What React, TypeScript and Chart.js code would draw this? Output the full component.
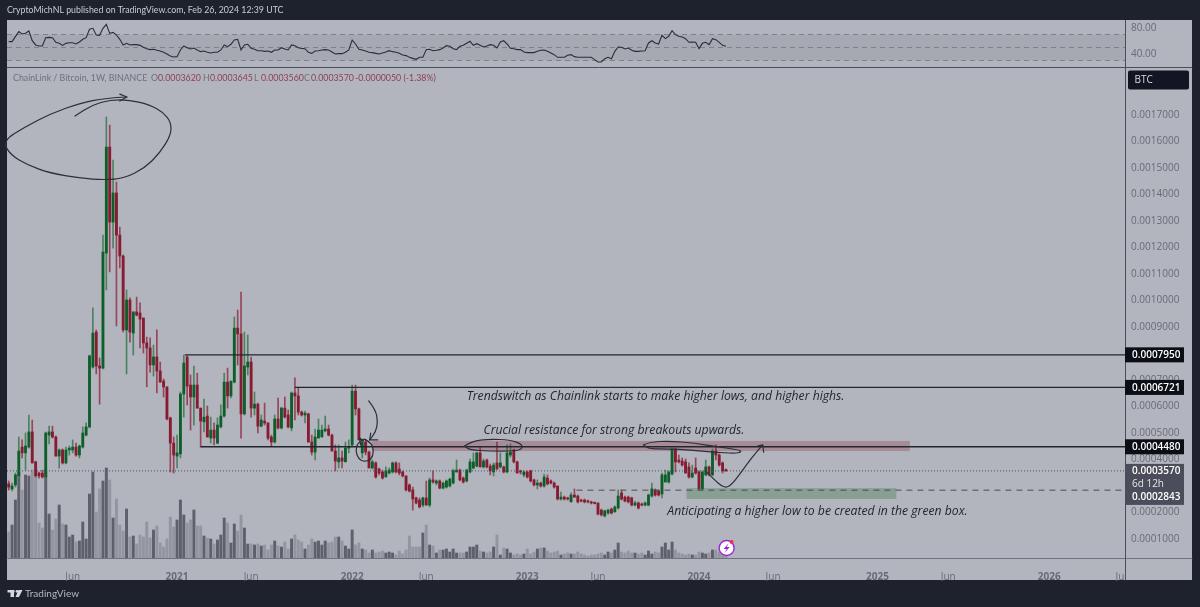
import { useEffect, useRef } from "react"
import { Chart, registerables, type Plugin } from "chart.js"

Chart.register(...registerables)

// prices are in units of 0.0000001 BTC
const opens = [
  3080,2890,3040,3380,4470,4250,4470,5040,3910,3490,
  3490,3340,4920,5040,4850,4130,4360,3870,4360,4360,
  4470,4170,4470,4920,5230,7490,8810,7530,7450,11790,
  15790,12960,14060,12470,11680,8890,10020,8770,9570,9530,
  9340,8400,8210,7570,7870,7340,6960,6740,5570,4620,
  4130,4210,6470,7870,6810,6360,6810,5940,5420,5640,
  4810,5110,4620,5230,5640,6920,6400,6920,8960,8740,
  5720,7490,7680,5940,6090,5260,5450,5380,4850,4660,
  5530,5190,5940,5680,5190,6510,6400,5790,5680,5720,
  4660,4280,4810,4850,5080,5150,4920,4320,3910,4060,
  3910,4430,4550,6580,5910,4250,4660,4280,3680,3870,
  3640,3530,3340,3490,3530,3870,3640,3530,3380,3040,
  2850,2550,2470,2280,2550,2280,3230,3110,3190,2920,
  2960,3000,3110,3530,3600,3300,3190,3530,3680,3750,
  4250,3720,3980,3750,3530,3870,3720,3720,3530,4170,
  4360,3910,3570,3420,3530,3570,3230,3040,3110,3000,
  3300,3190,3110,3000,2510,2580,2550,2400,2660,2620,
  2470,2470,2430,2400,2360,2360,2090,1870,1980,2130,
  2020,2170,2740,2580,2580,2550,2280,2360,2320,2280,
  2280,2620,2850,2810,2700,3150,3150,3450,4400,3980,
  3940,3910,3720,3340,3680,3530,2890,3420,3720,3420,
  4320,4170,3870,3620,
]
const highs = [
  3190,3110,3490,4850,4740,5000,5680,5490,3940,3530,
  3600,5040,5260,5260,4890,4400,4400,4470,4510,4740,
  4620,4550,5230,5380,7940,9720,8890,7830,12470,16930,
  16620,15300,14470,12770,11720,10400,10100,9570,10130,9910,
  9340,8620,8590,8320,8890,7680,7040,6740,5600,4850,
  4920,6550,7940,7910,7190,7530,7260,5940,6280,6020,
  5600,5380,5570,6060,7260,7450,6960,9380,9640,10320,
  8810,8700,7870,6550,6130,5680,6130,5380,4920,5680,
  6320,5980,6360,5870,6550,7080,6700,5830,5830,5750,
  4920,5150,5530,5300,5640,5300,4960,4550,4550,4320,
  4660,4740,6810,6810,5940,4770,4740,4320,3980,3910,
  3680,3600,3720,3680,3910,3910,3870,3570,3380,3080,
  2960,2580,2550,2580,3190,3300,3570,3230,3230,3150,
  3230,3300,3640,3980,3640,3340,3640,4020,4250,4280,
  4470,4020,4020,3830,3870,4660,4250,3750,4550,4590,
  4400,3940,3600,3570,3570,3600,3260,3230,3150,3450,
  3420,3230,3150,3000,2770,2620,2580,2740,2890,2660,
  2510,2510,2470,2430,2400,2360,2130,2090,2130,2170,
  2250,2850,2850,2620,2620,2580,2430,2400,2360,2400,
  2700,3110,2890,2850,3490,3600,3570,4430,4430,4170,
  4060,4020,3870,3790,4060,3570,3570,3980,3750,4400,
  4550,4210,3910,3645,
]
const lows = [
  2850,2810,2960,3340,4060,3600,4430,3870,3340,3300,
  3300,3300,4590,4810,4130,3680,3830,3830,4170,4250,
  4130,4060,4430,4890,5190,7450,7230,6090,7420,10400,
  11080,11980,9040,11230,8810,7230,8430,7940,9420,8210,
  8020,6740,7300,7150,6510,6920,6360,5490,3530,3490,
  3680,4060,5600,6060,5110,5300,5940,4470,5040,4850,
  4620,4550,4590,5190,5600,5940,6320,6890,7570,4810,
  5680,7190,5600,5680,5000,5230,5300,4740,4510,4620,
  5150,5150,5570,5190,5080,5490,5680,5640,5380,4660,
  4170,3980,4810,4850,5040,4890,4320,3570,3680,3680,
  3910,4250,4510,5680,4740,4060,4170,3680,3640,3300,
  3420,3260,3340,3450,3490,3490,3420,3340,2810,2770,
  2090,2320,2170,2210,2280,2210,3110,3040,2890,2890,
  2920,2960,3080,3530,3190,3110,3150,3490,3640,3720,
  3720,3680,3680,3420,3380,3640,3680,3490,3490,4090,
  3870,3490,3450,3340,3300,3150,3000,2890,2960,2960,
  3040,3080,2920,2470,2470,2470,2470,2400,2580,2360,
  2400,2360,2360,2320,2320,1910,1870,1830,1940,1940,
  2020,2130,2470,2400,2360,2250,2250,2130,2250,2250,
  2250,2580,2620,2620,2550,3150,3110,3420,3530,3870,
  3750,3490,3300,3300,3450,2850,2850,3380,3380,3380,
  3980,3750,3490,3560,
]
const closes = [
  2960,3000,3420,4320,4250,4510,5040,3870,3380,3380,
  3340,5000,5040,4850,4130,4360,3870,4360,4430,4470,
  4170,4510,5000,5230,7910,8770,7530,7450,11830,15790,
  12960,14060,12470,11680,8890,10020,8810,9570,9450,9300,
  8400,8210,7570,7870,7340,6920,6740,5530,4620,4170,
  4250,6470,7640,6770,6360,6810,5940,5450,5600,4850,
  5110,4810,5300,5640,6920,6400,6960,8960,8740,5720,
  7530,7680,5940,6090,5260,5490,5380,4810,4660,5530,
  5190,5940,5600,5230,6510,6400,5790,5680,5750,4660,
  4280,4850,5110,5110,5150,4920,4320,3940,4060,3940,
  4430,4470,6580,5910,4740,4660,4280,3680,3910,3340,
  3490,3300,3570,3600,3870,3530,3490,3380,2850,2810,
  2510,2360,2210,2550,2280,3230,3150,3190,2920,3110,
  3190,3260,3570,3600,3230,3150,3600,3910,3910,4250,
  3720,3940,3720,3570,3790,3640,3870,3530,4250,4280,
  3910,3490,3530,3530,3340,3190,3040,3110,3000,3340,
  3080,3110,2960,2510,2580,2510,2510,2660,2580,2400,
  2430,2400,2400,2360,2340,1940,1910,2060,2090,1980,
  2210,2620,2510,2430,2400,2280,2360,2170,2280,2360,
  2660,2890,2660,2660,3420,3420,3530,4400,3910,3910,
  3790,3490,3340,3490,3490,2890,3530,3720,3420,4320,
  4170,3790,3570,3570,
]
const volumes = [
  26,33,58,86,68,83,82,88,81,35,
  30,88,44,28,39,53,34,33,21,23,
  16,17,36,19,64,86,46,69,77,90,
  78,40,59,33,27,49,21,22,14,23,
  21,36,20,28,32,15,11,19,41,31,
  38,58,43,35,38,48,32,32,22,20,
  19,14,18,23,40,35,15,34,27,43,
  30,14,14,13,14,12,13,8,13,17,
  12,11,16,9,19,23,18,16,9,13,
  19,16,17,13,17,15,16,21,21,17,
  12,9,28,13,15,9,8,5,8,5,
  6,7,5,6,5,3,7,4,8,22,
  11,11,11,25,33,13,12,5,8,8,
  9,6,9,5,5,5,6,11,11,13,
  7,6,5,6,11,23,3,10,9,5,
  3,4,3,4,9,4,6,9,10,10,
  7,5,6,7,3,4,5,4,4,6,
  4,3,2,3,3,4,5,3,6,5,
  8,15,6,5,7,5,5,4,5,3,
  7,4,6,5,11,15,8,16,8,5,
  4,3,4,3,3,6,5,4,5,8,
  8,6,5,4,
]
const rsi = [
  59,59,66.7,74.4,70.8,71.8,75.4,60.5,53.9,52.3,
  52.3,65.1,65.6,65.1,58,56.4,53.3,56.4,57.4,57.4,
  55.4,58.5,62.6,65.1,78,79.5,69.2,68.7,79.5,85.6,
  71.8,73.3,69.2,62.6,53.9,56.4,53.9,54.4,54.4,53.3,
  50.3,48.2,46.7,47.2,45.7,44.6,42.6,40,36.9,35.4,
  35.9,46.2,52.3,49.7,47.7,49.2,46.2,43.6,44.6,42.6,
  41.5,42.6,42.6,46.2,53.9,51.3,54.9,61.5,62.6,46.2,
  53.9,54.9,48.7,47.2,45.1,45.1,44.1,44.6,42.6,46.2,
  46.2,49.7,47.7,46.2,53.9,52.8,49.7,48.7,48.2,42.6,
  41,44.6,45.1,46.2,46.7,46.2,43.1,40,40.5,40.5,
  42.6,46.2,61.5,55.4,47.2,46.2,44.6,42.6,42.1,41,
  40,41.6,43.1,45.1,43.6,42.6,41,38.5,37.5,34.9,
  33.3,31.8,34.9,34.9,46.7,47.2,45.1,45.7,46.7,49.2,
  52.8,51.8,48.2,46.7,51.8,53.4,56.4,59.5,53.4,55.9,
  53.4,50.8,52.3,54.4,53.4,49.2,58.5,60.5,55.4,48.7,
  48.2,46.7,46.7,43.1,42.1,42.1,42.1,44.1,45.7,46.2,
  44.1,41.6,39,34.9,34.9,34.9,38,39,35.9,34.9,
  34.9,34.9,34.9,34.9,31.3,27.7,27.7,32.8,34.9,32.8,
  44.1,50.8,50.3,47.7,49.2,45.7,44.1,44.1,44.6,45.1,
  57,60.5,57,55.4,68.7,63.6,67.2,75.9,69.8,67.2,
  66.2,63.6,58,58.5,58,48.2,56.4,58,54.4,63.6,
  62.1,58,53.4,51.8,
]

const weekCount = 332
const priceTicks = [17000,16000,15000,14000,13000,12000,11000,10000,9000,8000,7000,6000,5000,4000,3000,2000,1000]
const rsiTicks = [80, 40]
const timeWeeks = [19, 50, 72, 102, 124, 154, 175, 205, 227, 258, 279, 309, 330]
const timeLabels = ["Jun", "2021", "Jun", "2022", "Jun", "2023", "Jun", "2024", "Jun", "2025", "Jun", "2026", "Ju"]

// horizontal levels: [price, first week]
const resistanceLevels = [[7950, 52.3], [6721, 85], [4480, 57]]
const lastPrice = 3570
const supportPrice = 2843
const supportStart = 168.6
const redZone = [107.8, 267.6, 4700, 4320]
const greenZone = [201.3, 263.6, 2920, 2510]

// freehand drawings as [week, price]
const topEllipse = [[35.1,17680],[28.6,17640],[21.2,17450],[12.3,17040],[4.8,16550],[-1.8,16020],[0.5,15500],[5.7,15110],[12.3,14810],[21.2,14620],[28.6,14550],[34.5,14620],[40.4,15000],[44.9,15570],[48.2,16250],[48.2,16740],[45.8,17110],[41.9,17380],[36,17570],[30.1,17570],[24.7,17380],[19.7,16960]]
const topHead = [[33,17790],[35.1,17680],[33,17530]]
const bendArrow = [[106.9,6210],[109,5870],[109.6,5420],[109,5040],[107.2,4740]]
const bendHead = [[107.5,5000],[107.2,4740],[109.6,4740]]
const smallCircle = [[105.7,4770],[107.8,4620],[108.4,4320],[107.8,4020],[105.7,3910],[103.9,4020],[103,4320],[103.6,4620],[105.7,4770]]
const smallHook = [[104.5,4550],[104.2,4810],[105.4,4700]]
const midEllipse = [[135.4,4510],[137.5,4700],[142.8,4770],[148.8,4740],[152.3,4590],[152.6,4400],[150.2,4320],[142.8,4320],[136.9,4360],[135.4,4510]]
const rightEllipse = [[188.5,4550],[190.3,4660],[196.2,4700],[203.6,4620],[211,4470],[217,4360],[217.6,4280],[215.5,4230],[209.6,4280],[202.2,4360],[196.2,4400],[190.3,4400],[188.5,4550]]
const forecastCurve = [[206.9,3570],[209.6,3230],[211.7,3000],[213.2,2940],[214.9,3080],[217.6,3530],[220.6,4060],[223.9,4550]]
const forecastHead = [[222.4,4510],[223.9,4550],[224.2,4280]]

const notes: [string, number, number][] = [
  ["Trendswitch as Chainlink starts to make higher lows, and higher highs.", 136, 6360],
  ["Crucial resistance for strong breakouts upwards.", 141, 5080],
  ["Anticipating a higher low to be created in the green box.", 195.6, 2020],
]

const FONT = '"Open Sans", sans-serif'
const PAGE_FONT = 'Lato, sans-serif'
const UP = "#0d5f2a"
const DOWN = "#861b31"
const UP_WICK = "#4f8161"
const DOWN_WICK = "#96455a"
const INK = "#23262e"

const weeks = Array.from({ length: weekCount }, (_, i) => {
  return new Date(Date.UTC(2020, 0, 27 + i * 7)).toISOString().slice(0, 10)
})

const fmt = (v: number) => (v / 1e7).toFixed(7)

function stroke(ctx: CanvasRenderingContext2D, pts: number[][], chart: Chart, smooth = true) {
  const p = pts.map(([w, v]) => [chart.scales.x.getPixelForValue(w), chart.scales.y.getPixelForValue(v)])
  ctx.beginPath()
  ctx.moveTo(p[0][0], p[0][1])
  for (let i = 1; i < p.length; i++) {
    if (smooth && i < p.length - 1) {
      ctx.quadraticCurveTo(p[i][0], p[i][1], (p[i][0] + p[i + 1][0]) / 2, (p[i][1] + p[i + 1][1]) / 2)
    } else {
      ctx.lineTo(p[i][0], p[i][1])
    }
  }
  ctx.stroke()
}

// page frame and the RSI band go under the data
const underlay: Plugin<"bar"> = {
  id: "underlay",
  beforeDraw(chart) {
    const { ctx, chartArea: a } = chart
    ctx.save()
    ctx.fillStyle = "#1e222d"
    ctx.fillRect(0, 0, chart.width, chart.height)
    ctx.fillStyle = "#b2b5be"
    ctx.fillRect(a.left, a.top, 1192 - a.left, 580 - a.top)
    ctx.restore()
  },
  beforeDatasetsDraw(chart) {
    const { ctx, chartArea: a, scales } = chart
    const r = scales.yRsi
    ctx.save()
    ctx.fillStyle = "#a6a9b2"
    ctx.fillRect(a.left, r.getPixelForValue(70), a.width, r.getPixelForValue(30) - r.getPixelForValue(70))
    ctx.strokeStyle = "#7f828c"
    ctx.lineWidth = 1
    ctx.setLineDash([5, 4])
    for (const level of [70, 50, 30]) {
      const y = r.getPixelForValue(level)
      ctx.beginPath()
      ctx.moveTo(a.left, y)
      ctx.lineTo(a.right, y)
      ctx.stroke()
    }
    ctx.restore()
  },
}

// drawings, notes, price tags and the page texts
const overlay: Plugin<"bar"> = {
  id: "overlay",
  afterDraw(chart) {
    const { ctx, chartArea: a, scales } = chart
    const px = (w: number) => scales.x.getPixelForValue(w)
    const py = (v: number) => scales.y.getPixelForValue(v)
    ctx.save()

    // zones
    ctx.fillStyle = "rgba(135,30,50,0.27)"
    ctx.fillRect(px(redZone[0]), py(redZone[2]), px(redZone[1]) - px(redZone[0]), py(redZone[3]) - py(redZone[2]))
    ctx.fillStyle = "rgba(40,110,50,0.3)"
    ctx.fillRect(px(greenZone[0]), py(greenZone[2]), px(greenZone[1]) - px(greenZone[0]), py(greenZone[3]) - py(greenZone[2]))

    // levels
    ctx.strokeStyle = INK
    ctx.lineWidth = 1.4
    for (const [price, start] of resistanceLevels) {
      ctx.beginPath()
      ctx.moveTo(px(start), py(price))
      ctx.lineTo(a.right, py(price))
      ctx.stroke()
    }
    ctx.lineWidth = 1
    ctx.strokeStyle = "#4a4d57"
    ctx.setLineDash([1, 2])
    ctx.beginPath()
    ctx.moveTo(a.left, py(lastPrice))
    ctx.lineTo(a.right, py(lastPrice))
    ctx.stroke()
    ctx.setLineDash([6, 5])
    ctx.beginPath()
    ctx.moveTo(px(supportStart), py(supportPrice))
    ctx.lineTo(a.right, py(supportPrice))
    ctx.stroke()
    ctx.setLineDash([])

    // freehand
    ctx.strokeStyle = "#2c2f38"
    ctx.lineWidth = 1.2
    ctx.lineJoin = "round"
    ctx.lineCap = "round"
    for (const path of [topEllipse, bendArrow, smallCircle, midEllipse, rightEllipse, forecastCurve]) {
      stroke(ctx, path, chart)
    }
    for (const path of [topHead, bendHead, smallHook, forecastHead]) {
      stroke(ctx, path, chart, false)
    }

    // notes
    ctx.fillStyle = "#1f222a"
    ctx.font = `italic 12.2px ${FONT}`
    ctx.textBaseline = "middle"
    ctx.textAlign = "left"
    for (const [text, w, v] of notes) ctx.fillText(text, px(w), py(v))

    // idea badge
    const bx = px(213.2)
    const by = py(660)
    ctx.beginPath()
    ctx.arc(bx, by, 7.5, 0, Math.PI * 2)
    ctx.fillStyle = "#ffffff"
    ctx.fill()
    ctx.strokeStyle = "#9b27d9"
    ctx.lineWidth = 1.4
    ctx.stroke()
    ctx.fillStyle = "#9b27d9"
    ctx.beginPath()
    ctx.moveTo(bx + 2, by - 5)
    ctx.lineTo(bx - 3, by + 1)
    ctx.lineTo(bx, by + 1)
    ctx.lineTo(bx - 2, by + 5)
    ctx.lineTo(bx + 3, by - 1)
    ctx.lineTo(bx, by - 1)
    ctx.closePath()
    ctx.fill()
    ctx.fillStyle = "#e8324a"
    ctx.beginPath()
    ctx.arc(bx + 5, by - 6, 2, 0, Math.PI * 2)
    ctx.fill()

    // axis line under the pane, and the price scale running on to the frame
    ctx.strokeStyle = "#70737d"
    ctx.lineWidth = 1
    ctx.beginPath()
    ctx.moveTo(a.left, a.bottom + 0.5)
    ctx.lineTo(1192, a.bottom + 0.5)
    ctx.stroke()
    ctx.strokeStyle = "#4a4e58"
    ctx.beginPath()
    ctx.moveTo(a.left, 67.5)
    ctx.lineTo(1192, 67.5)
    ctx.moveTo(a.right + 0.5, a.bottom)
    ctx.lineTo(a.right + 0.5, 580)
    ctx.stroke()

    // price tags
    ctx.font = `600 10px ${FONT}`
    for (const [price] of resistanceLevels) {
      ctx.fillStyle = "#0c0e15"
      ctx.fillRect(a.right, py(price) - 7.5, 59, 15)
      ctx.fillStyle = "#ffffff"
      ctx.fillText(fmt(price), a.right + 7, py(price) + 0.5)
    }
    const tagTop = py(lastPrice) - 7
    ctx.fillStyle = "#4b4e5a"
    ctx.fillRect(a.right, tagTop, 59, 41)
    ctx.fillStyle = "#ffffff"
    ctx.fillText(fmt(lastPrice), a.right + 7, tagTop + 7.5)
    ctx.font = `10px ${FONT}`
    ctx.fillStyle = "#e4e5ea"
    ctx.fillText("6d 12h", a.right + 7, tagTop + 20)
    ctx.font = `600 10px ${FONT}`
    ctx.fillStyle = "#ffffff"
    ctx.fillText(fmt(supportPrice), a.right + 7, tagTop + 33.5)

    // BTC chip
    ctx.fillStyle = "#131622"
    ctx.beginPath()
    ctx.roundRect(1128, 70.5, 61, 19, 2)
    ctx.fill()
    ctx.fillStyle = "#d8dae0"
    ctx.font = `10px ${FONT}`
    ctx.fillText("BTC", 1134.5, 80.5)

    // header
    ctx.fillStyle = "#c9ccd4"
    ctx.font = `8.8px ${PAGE_FONT}`
    ctx.fillText("CryptoMichNL published on TradingView.com, Feb 26, 2024 12:39 UTC", 7, 10.5)

    // legend
    ctx.font = `8.8px ${PAGE_FONT}`
    ctx.fillStyle = "#6d707b"
    ctx.fillText("ChainLink / Bitcoin, 1W, BINANCE", 13, 78.5)
    const ohlc: [string, string, number][] = [
      ["O", fmt(opens[213]), 151],
      ["H", fmt(highs[213]), 203],
      ["L", fmt(lows[213]), 254],
      ["C", fmt(closes[213]), 304],
    ]
    for (const [name, value, x] of ohlc) {
      ctx.fillStyle = "#6d707b"
      ctx.fillText(name, x, 78.5)
      ctx.fillStyle = "#8e3e52"
      ctx.fillText(value, x + 7, 78.5)
    }
    ctx.fillStyle = "#8e3e52"
    ctx.fillText("-0.0000050 (-1.38%)", 355, 78.5)

    // footer
    ctx.fillStyle = "#d6d8de"
    ctx.fillRect(7.5, 590, 7, 2.5)
    ctx.fillRect(10.5, 590, 3.5, 7)
    ctx.beginPath()
    ctx.arc(17, 591.3, 1.4, 0, Math.PI * 2)
    ctx.fill()
    ctx.beginPath()
    ctx.moveTo(18.5, 590)
    ctx.lineTo(22.5, 590)
    ctx.lineTo(19, 597)
    ctx.lineTo(15.5, 597)
    ctx.closePath()
    ctx.fill()
    ctx.fillStyle = "#b4b7bf"
    ctx.font = `10px ${PAGE_FONT}`
    ctx.fillText("TradingView", 25, 593.5)
    ctx.restore()
  },
}

export default function App() {
  const chartRef = useRef<HTMLCanvasElement>(null)
  const chartInstance = useRef<Chart | null>(null)

  useEffect(() => {
    if (!chartRef.current) return
    if (chartInstance.current) chartInstance.current.destroy()

    const isUp = opens.map((o, i) => closes[i] >= o)

    chartInstance.current = new Chart(chartRef.current, {
      type: "bar",
      data: {
        labels: weeks,
        datasets: [
          {
            label: "Volume",
            data: volumes,
            yAxisID: "yVol",
            order: 4,
            barThickness: 2.3,
            backgroundColor: isUp.map((u) => (u ? "#5e616b" : "#93969f")),
          },
          {
            label: "Wick",
            data: lows.map((l, i) => [l, highs[i]]),
            yAxisID: "y",
            order: 3,
            barThickness: 1,
            backgroundColor: isUp.map((u) => (u ? UP_WICK : DOWN_WICK)),
          },
          {
            label: "Body",
            data: opens.map((o, i) => [o, closes[i]]),
            yAxisID: "y",
            order: 2,
            barThickness: 2.2,
            minBarLength: 1,
            backgroundColor: isUp.map((u) => (u ? UP : DOWN)),
          },
          {
            type: "line",
            label: "RSI",
            data: rsi,
            yAxisID: "yRsi",
            order: 1,
            borderColor: "#2b2e38",
            borderWidth: 1.1,
            pointRadius: 0,
            tension: 0,
          },
        ] as any,
      },
      options: {
        responsive: false,
        animation: false,
        events: [],
        layout: { padding: { left: 7, right: 8, top: 20, bottom: 26 } },
        datasets: { bar: { grouped: false } },
        plugins: { legend: { display: false }, tooltip: { enabled: false } },
        scales: {
          x: {
            type: "category",
            offset: true,
            grid: { display: false },
            border: { display: false },
            afterFit: (s: any) => {
              s.height = 23
            },
            afterBuildTicks: (s: any) => {
              s.ticks = timeWeeks.map((w) => ({ value: w }))
            },
            ticks: {
              autoSkip: false,
              maxRotation: 0,
              padding: 5,
              color: "#686b76",
              font: (c: any) => ({
                family: FONT,
                size: 10,
                weight: /^\d/.test(timeLabels[c.index] ?? "") ? "bold" : "normal",
              }),
              callback: (_v: any, i: number) => timeLabels[i],
            },
          },
          yRsi: {
            position: "right",
            stack: "panes",
            stackWeight: 47,
            weight: 0,
            min: 20,
            max: 92.3,
            grid: { display: false, drawTicks: false },
            border: { color: "#4a4e58" },
            afterFit: (s: any) => {
              s.width = 67
            },
            afterBuildTicks: (s: any) => {
              s.ticks = rsiTicks.map((v) => ({ value: v }))
            },
            ticks: {
              autoSkip: false,
              padding: 6,
              color: "#686b76",
              font: { family: FONT, size: 10 },
              callback: (v: any) => Number(v).toFixed(2),
            },
          },
          y: {
            position: "right",
            stack: "panes",
            stackWeight: 491,
            weight: 1,
            min: 283,
            max: 18813,
            grid: { display: false, drawTicks: false },
            border: { color: "#4a4e58" },
            afterFit: (s: any) => {
              s.width = 67
            },
            afterBuildTicks: (s: any) => {
              s.ticks = priceTicks.map((v) => ({ value: v }))
            },
            ticks: {
              autoSkip: false,
              padding: 6,
              color: "#686b76",
              font: { family: FONT, size: 10 },
              callback: (v: any) => fmt(Number(v)),
            },
          },
          yVol: {
            display: false,
            min: 0,
            max: 538,
          },
        },
      } as any,
      plugins: [underlay, overlay] as any,
    })

    return () => {
      if (chartInstance.current) {
        chartInstance.current.destroy()
        chartInstance.current = null
      }
    }
  }, [])

  return (
    <div style={{ position: "absolute", left: 0, top: 0, width: 1200, height: 607 }}>
      <canvas ref={chartRef} width={1200} height={607} style={{ display: "block" }}></canvas>
    </div>
  )
}
